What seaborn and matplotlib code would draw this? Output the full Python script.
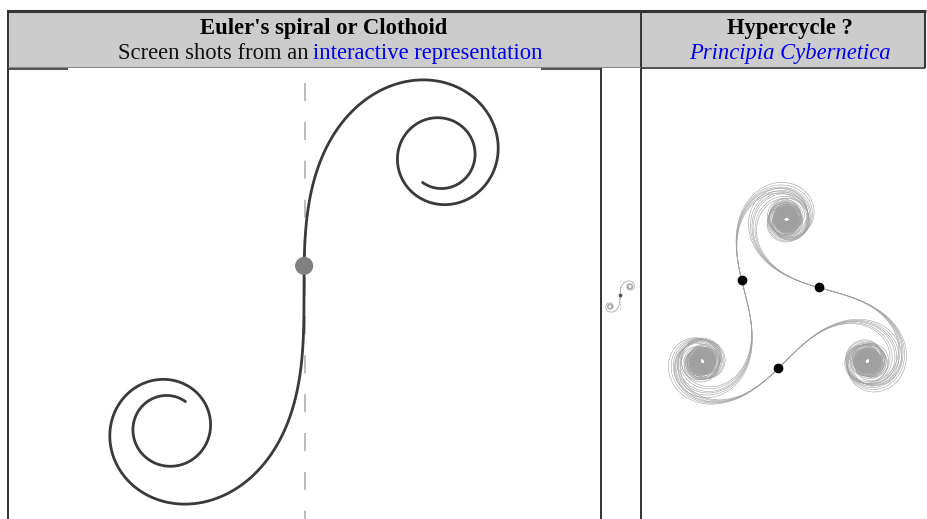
import numpy as np
import pandas as pd
import seaborn as sns
import matplotlib.pyplot as plt
from matplotlib.patches import Rectangle

sns.set_theme(style='white')
plt.rcParams['font.family'] = ['Liberation Serif', 'DejaVu Serif']
plt.rcParams['lines.scale_dashes'] = False

W, H = 927, 519

# header texts
left_title = "Euler's spiral or Clothoid"
left_sub_plain = "Screen shots from an"
left_sub_link = "interactive representation"
right_title = "Hypercycle ?"
right_sub_link = "Principia Cybernetica"

# Euler spiral (screen shot) - inflection point, scale in px, parameter range
euler_centre = (304, 292)
euler_scale = 272
euler_tmax = 2.72
euler_dot_t = 0.096

# tiny thumbnail in the narrow column
thumb_centre = (620, 296.5)
thumb_scale = 20

# hypercycle: the three spiral centres, dots along each arm, line bundle
hyper_vertices = [(786.7, 218.3), (701.7, 361.7), (868.3, 361.7)]
hyper_dot_t = [-0.09, -0.08, 0.08]
hyper_spread = [0.94, 0.96, 0.985, 1.0, 1.02, 1.045]
hyper_tmax = 6.0


def clothoid(tmax, n):
    # Fresnel integrals, drawn in screen orientation (y down)
    t = np.linspace(-tmax, tmax, n)
    dt = t[1] - t[0]
    c = np.cos(np.pi * t ** 2 / 2)
    s = np.sin(np.pi * t ** 2 / 2)
    C = np.concatenate([[0], np.cumsum((c[1:] + c[:-1]) / 2 * dt)])
    S = np.concatenate([[0], np.cumsum((s[1:] + s[:-1]) / 2 * dt)])
    mid = n // 2
    return t, (S - S[mid]) - 1j * (C - C[mid])


fig = plt.figure(figsize=(W / 100, H / 100), dpi=100)
ax = fig.add_axes([0, 0, 1, 1])

# table frame
ax.add_patch(Rectangle((8, 11), 917, 56, facecolor='#cccccc', edgecolor='none', zorder=0))
ax.plot([7, 926], [10.5, 10.5], color='#333333', lw=2.2, solid_capstyle='butt')
ax.plot([8, 8], [9.5, H], color='#333333', lw=1.4, solid_capstyle='butt')
ax.plot([925, 925], [9.5, 68], color='#333333', lw=1.4, solid_capstyle='butt')
ax.plot([641, 641], [9.5, H], color='#333333', lw=1.4, solid_capstyle='butt')
ax.plot([601, 601], [68, H], color='#333333', lw=1.4, solid_capstyle='butt')
ax.plot([8, 641], [67, 67], color='#8a8a8a', lw=0.8, solid_capstyle='butt')
ax.plot([641, 925], [67.5, 67.5], color='#333333', lw=1.2, solid_capstyle='butt')
ax.plot([8, 68], [68.5, 68.5], color='#333333', lw=1.2, solid_capstyle='butt')
ax.plot([541, 601], [68.5, 68.5], color='#333333', lw=1.2, solid_capstyle='butt')

# header text
fs = 16.3
ax.text(324, 34, left_title, ha='center', va='baseline', fontsize=fs, fontweight='bold', color='black')
ax.text(309, 59, left_sub_plain, ha='right', va='baseline', fontsize=fs, color='#111111')
ax.text(313.5, 59, left_sub_link, ha='left', va='baseline', fontsize=fs, color='#0000ee')
ax.text(789.5, 34, right_title, ha='center', va='baseline', fontsize=fs, fontweight='bold', color='black')
ax.text(790, 59, right_sub_link, ha='center', va='baseline', fontsize=fs, style='italic', color='#0000ee')

# Euler spiral
ex, ey = euler_centre
ax.plot([ex + 1, ex + 1], [83, H], color='#b8b8b8', lw=1.3, linestyle=(0, (13, 15)))
t, base = clothoid(euler_tmax, 2721)
z = ex + 1j * ey + euler_scale * base
sns.lineplot(x=z.real, y=z.imag, sort=False, estimator=None, color='#3a3a3a',
             linewidth=2.0, ax=ax)
k = np.argmin(abs(t - euler_dot_t))
sns.scatterplot(x=[z.real[k]], y=[z.imag[k]], s=170, color='#808080', edgecolor='none', ax=ax, zorder=5)

# thumbnail
tx, ty = thumb_centre
ax.plot([tx, tx], [280, 313], color='#cccccc', lw=0.6, linestyle=(0, (2, 2)))
t, base = clothoid(3.5, 3501)
zt = tx + 1j * ty + thumb_scale * base
sns.lineplot(x=zt.real, y=zt.imag, sort=False, estimator=None, color='#a8a8a8',
             linewidth=0.6, ax=ax)
ax.scatter([tx], [ty - 2], s=3, color='#555555', zorder=5)

# hypercycle: three clothoids joining the spiral centres
t, base = clothoid(hyper_tmax, 12001)
L = -0.5 + 0.5j
U = 0.5 - 0.5j
for i in range(3):
    p1 = complex(*hyper_vertices[i])
    p2 = complex(*hyper_vertices[(i + 1) % 3])
    a = (p2 - p1) / (U - L)
    b = p1 - a * L
    for f in hyper_spread:
        zz = b + a * f * base
        sns.lineplot(x=zz.real, y=zz.imag, sort=False, estimator=None, color='#a0a0a0',
                     linewidth=0.4, ax=ax)
    k = np.argmin(abs(t - hyper_dot_t[i]))
    zd = b + a * base[k]
    ax.scatter([zd.real], [zd.imag], s=36, color='black', zorder=6)

ax.set_xlim(0, W)
ax.set_ylim(H, 0)
ax.axis('off')
fig.savefig('out.png', dpi=100)
